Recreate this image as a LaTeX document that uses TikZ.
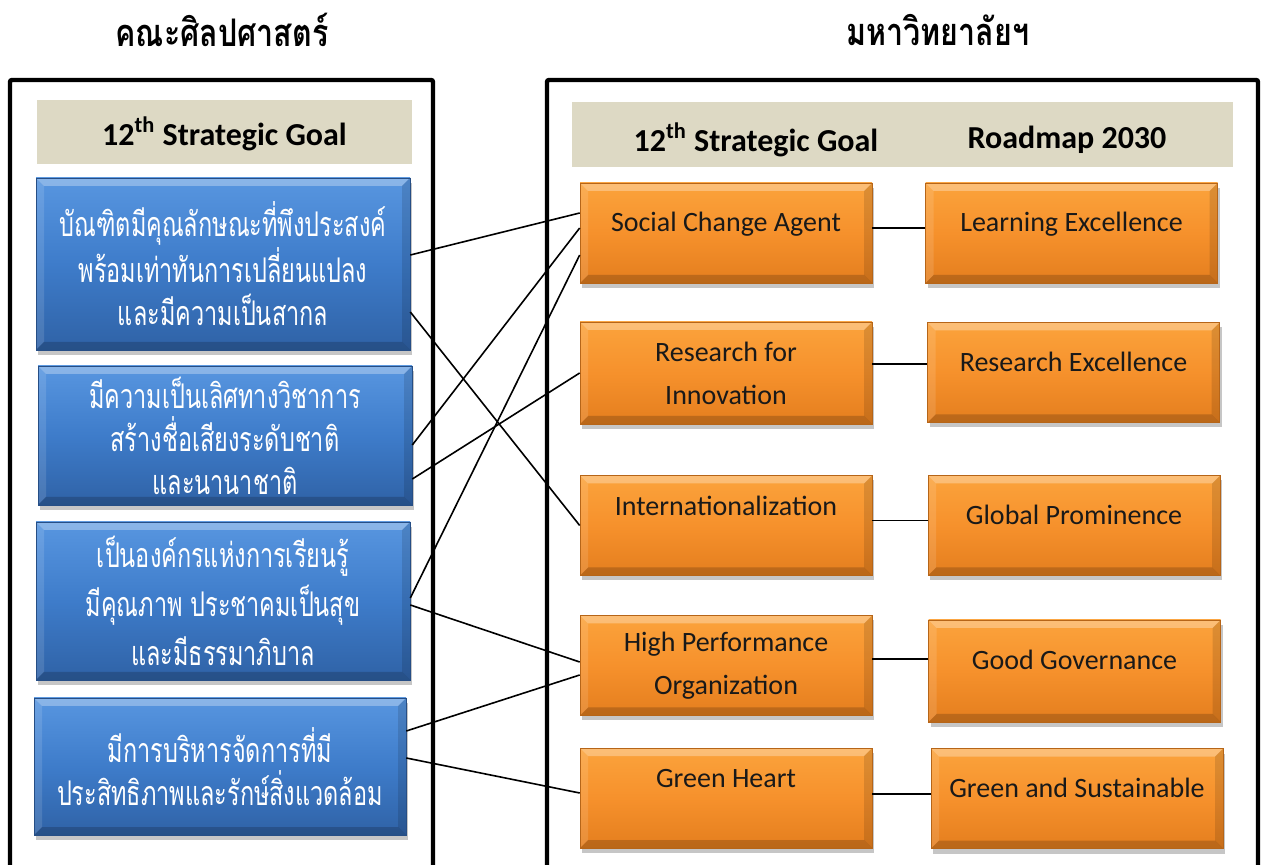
\documentclass[tikz,border=0pt]{standalone}
\usepackage{fontspec}
\setmainfont{Carlito}
\newfontfamily\thaifont[Script=Thai,FakeStretch=0.69]{Loma}
\newfontfamily\thaihead[Script=Thai,FakeStretch=0.8]{Loma}
\usepackage{tikz}
\usetikzlibrary{positioning,shadows}

\definecolor{tanbar}{RGB}{221,217,196}
\definecolor{bluetop}{RGB}{88,150,224}
\definecolor{bluemid}{RGB}{62,124,202}
\definecolor{bluebot}{RGB}{47,98,166}
\definecolor{orangetop}{RGB}{251,163,60}
\definecolor{orangemid}{RGB}{246,145,44}
\definecolor{orangebot}{RGB}{228,126,30}

\tikzset{
  frame/.style={line width=2.2pt,rounded corners=1pt},
  headbar/.style={fill=tanbar,inner sep=0pt,font=\bfseries\fontsize{16}{19}\selectfont},
  bevelled/.style={path picture={
    \fill[white,opacity=.3] (path picture bounding box.north west) -- (path picture bounding box.north east)
      -- ([shift={(-4pt,-4pt)}]path picture bounding box.north east) -- ([shift={(4pt,-4pt)}]path picture bounding box.north west) -- cycle;
    \fill[white,opacity=.12] (path picture bounding box.north west) -- (path picture bounding box.south west)
      -- ([shift={(4pt,4pt)}]path picture bounding box.south west) -- ([shift={(4pt,-4pt)}]path picture bounding box.north west) -- cycle;
    \fill[black,opacity=.12] (path picture bounding box.north east) -- (path picture bounding box.south east)
      -- ([shift={(-4pt,4pt)}]path picture bounding box.south east) -- ([shift={(-4pt,-4pt)}]path picture bounding box.north east) -- cycle;
    \fill[black,opacity=.18] (path picture bounding box.south west) -- (path picture bounding box.south east)
      -- ([shift={(-4pt,4pt)}]path picture bounding box.south east) -- ([shift={(4pt,4pt)}]path picture bounding box.south west) -- cycle;
  }},
  goalbox/.style={bevelled,top color=bluetop,bottom color=bluebot,middle color=bluemid,
    draw=bluebot!80!black,line width=.3pt,text=white,align=center,inner sep=0pt,
    drop shadow={opacity=.45,shadow xshift=1pt,shadow yshift=-2.5pt},
    font=\thaifont\fontsize{17}{21.5}\selectfont},
  planbox/.style={bevelled,top color=orangetop,bottom color=orangebot,middle color=orangemid,
    draw=orangebot!80!black,line width=.3pt,text=black!90,align=center,inner sep=0pt,
    minimum width=146pt,minimum height=50pt,
    drop shadow={opacity=.45,shadow xshift=1pt,shadow yshift=-2.5pt},
    font=\fontsize{14}{21.5}\selectfont},
  lifted/.style={text depth=11pt},
  liftmore/.style={text depth=20pt},
  link/.style={line width=.8pt}
}

\begin{document}
\begin{tikzpicture}[x=0.5pt,y=-0.5pt]
  \useasboundingbox (0,0) rectangle (1264,865);

  % titles over the two frames
  \node[font=\thaihead\bfseries\fontsize{19}{22}\selectfont] (faculty) at (222,30) {คณะศิลปศาสตร์};
  \node[font=\thaihead\bfseries\fontsize{19}{22}\selectfont] (univ) at (938,30) {มหาวิทยาลัยฯ};

  % open frames, running off the bottom
  \draw[frame] (10,872) -- (10,80) -- (433,80) -- (433,872);
  \draw[frame] (547,872) -- (547,80) -- (1258,80) -- (1258,872);

  % header bars
  \node[headbar,minimum width=187.5pt,minimum height=32pt,text height=16pt] (lhead) at (224.5,132) {12\textsuperscript{th} Strategic Goal};
  \node[headbar,minimum width=330.5pt,minimum height=32.5pt] (rhead) at (902.5,134.5) {};
  \node[font=\bfseries\fontsize{16}{19}\selectfont] (rgoal) at (756,140) {12\textsuperscript{th} Strategic Goal};
  \node[font=\bfseries\fontsize{16}{19}\selectfont] (rmap) at (1067,140) {Roadmap 2030};

  % faculty goals
  \node[goalbox,minimum width=187pt,minimum height=86pt] (b1) at (223,264)
    {บัณฑิตมีคุณลักษณะที่พึงประสงค์\\พร้อมเท่าทันการเปลี่ยนแปลง\\และมีความเป็นสากล};
  \node[goalbox,minimum width=187pt,minimum height=69.5pt] (b2) at (225,435.5)
    {มีความเป็นเลิศทางวิชาการ\\สร้างชื่อเสียงระดับชาติ\\และนานาชาติ};
  \node[goalbox,minimum width=187pt,minimum height=79pt,font=\thaifont\fontsize{17}{24.5}\selectfont] (b3) at (223,601)
    {เป็นองค์กรแห่งการเรียนรู้\\มีคุณภาพ ประชาคมเป็นสุข\\และมีธรรมาภิบาล};
  \node[goalbox,minimum width=186pt,minimum height=68.5pt] (b4) at (220,766.5)
    {มีการบริหารจัดการที่มี\\ประสิทธิภาพและรักษ์สิ่งแวดล้อม};

  % university goals
  \node[planbox,lifted] (o1) at (726,233) {Social Change Agent};
  \node[planbox,minimum height=51pt] (o2) at (726,373) {Research for\\Innovation};
  \node[planbox,liftmore] (o3) at (726,525.5) {Internationalization};
  \node[planbox] (o4) at (726,665.5) {High Performance\\Organization};
  \node[planbox,liftmore] (o5) at (726,798) {Green Heart};

  % roadmap 2030
  \node[planbox,lifted] (r1) at (1071.5,233) {Learning Excellence};
  \node[planbox,lifted] (r2) at (1073.5,372.5) {Research Excellence};
  \node[planbox,lifted] (r3) at (1074,525.5) {Global Prominence};
  \node[planbox,lifted,minimum height=51pt] (r4) at (1074.5,671) {Good Governance};
  \node[planbox,lifted] (r5) at (1077,798.5) {Green and Sustainable};

  % goal to roadmap
  \draw[link] ([yshift=2.5pt]o1.east) -- ([yshift=2.5pt]o1.east -| r1.west);
  \draw[link] ([yshift=4.5pt]o2.east) -- ([yshift=4.5pt]o2.east -| r2.west);
  \draw[link] ([yshift=2.5pt]o3.east) -- ([yshift=2.5pt]o3.east -| r3.west);
  \draw[link] ([yshift=3.25pt]o4.east) -- ([yshift=3.25pt]o4.east -| r4.west);
  \draw[link] ([yshift=2pt]o5.east) -- ([yshift=2pt]o5.east -| r5.west);

  % faculty goal to university goal
  \draw[link] ([yshift=4.5pt]b1.east) -- ([yshift=10pt]o1.west);
  \draw[link] ([yshift=-24pt]b1.east) -- (o3.west);
  \draw[link] ([yshift=-4.75pt]b2.east) -- ([yshift=2.5pt]o1.west);
  \draw[link] ([yshift=-21.75pt]b2.east) -- (o2.west);
  \draw[link] ([yshift=1.5pt]b3.east) -- ([yshift=-11pt]o1.west);
  \draw[link] ([yshift=-2pt]b3.east) -- ([yshift=1.75pt]o4.west);
  \draw[link] ([yshift=17.75pt]b4.east) -- ([yshift=-4.75pt]o4.west);
  \draw[link] ([yshift=4.25pt]b4.east) -- ([yshift=2.5pt]o5.west);
\end{tikzpicture}
\end{document}
